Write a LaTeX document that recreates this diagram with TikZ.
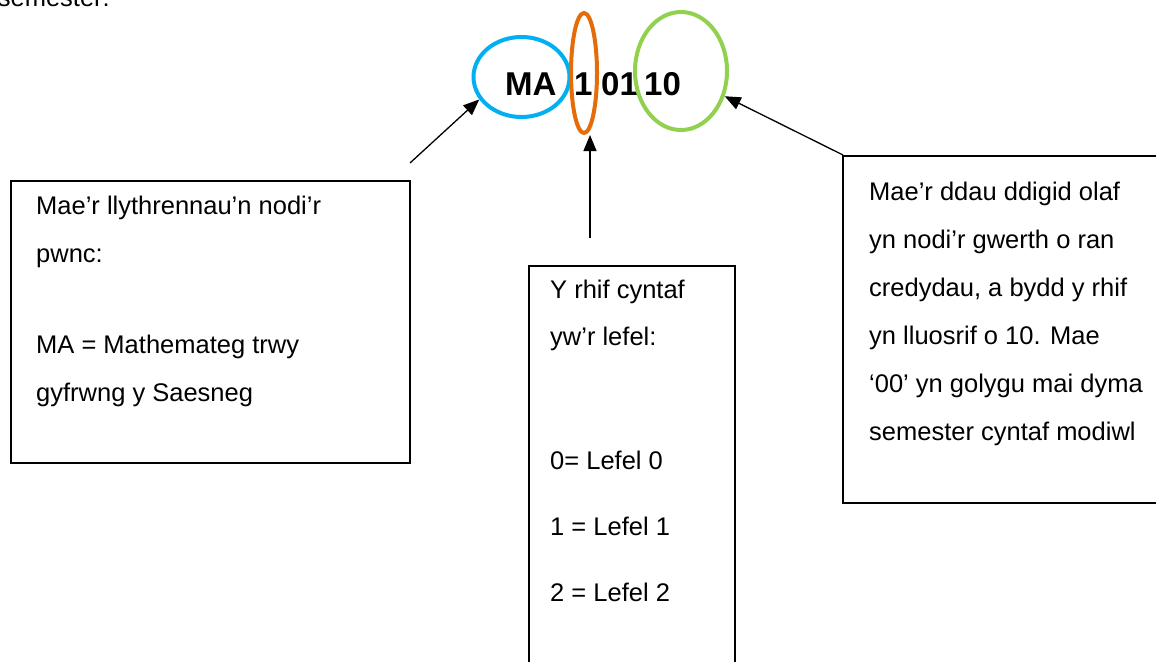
\documentclass[tikz,border=0pt]{standalone}
\usepackage{fontspec}
\setmainfont{Liberation Sans}
\usetikzlibrary{shapes.geometric,arrows.meta}
\definecolor{cblue}{HTML}{00B0F0}
\definecolor{corange}{HTML}{E46C0A}
\definecolor{cgreen}{HTML}{92D050}
\begin{document}
\begin{tikzpicture}[x=1pt,y=-1pt,
  txt/.style={anchor=base west,inner sep=0pt,font=\fontsize{25.5}{30}\selectfont},
  code/.style={anchor=base west,inner sep=0pt,font=\fontsize{33}{38}\selectfont\bfseries},
  ring/.style={ellipse,draw,line width=4pt,inner sep=0pt},
  box/.style={draw,line width=1.4pt},
  arr/.style={line width=1.3pt,-{Triangle[length=16pt,width=13pt]}}]
\useasboundingbox (0,0) rectangle (1156,661);
\node[txt,anchor=base east] (sem) at (110,7) {semester:};
% code
\node[code] (ma) at (505,95) {MA};
\node[code] (one) at (574,95) {1};
\node[code] (zo) at (601,95) {01};
\node[code] (ten) at (644,95) {10};
% rings
\node[ring,cblue,minimum width=96pt,minimum height=80pt] (blue) at (521.5,77) {};
\node[ring,corange,minimum width=26pt,minimum height=120pt] (orange) at (584,73) {};
\node[ring,cgreen,minimum width=92pt,minimum height=118pt] (green) at (681,71) {};
% boxes
\draw[box] (11,181) rectangle (410,463);
\draw[box] (529,266) rectangle (735,700);
\draw[box] (843,156) rectangle (1180,503);
\coordinate (ls) at (410,163);
\coordinate (ms) at (590,238);
\coordinate (rs) at (843,155);
% left text
\node[txt] (l1) at (36,214) {Mae’r llythrennau’n nodi’r};
\node[txt] (l2) at (36,262) {pwnc:};
\node[txt] (l3) at (36,353) {MA = Mathemateg trwy};
\node[txt] (l4) at (36,401) {gyfrwng y Saesneg};
% middle text
\node[txt] (m1) at (550,298) {Y rhif cyntaf};
\node[txt] (m2) at (550,345) {yw’r lefel:};
\node[txt] (m3) at (550,469) {0= Lefel 0};
\node[txt] (m4) at (550,535) {1 = Lefel 1};
\node[txt] (m5) at (550,601) {2 = Lefel 2};
% right text
\node[txt] (r1) at (869,200) {Mae’r ddau ddigid olaf};
\node[txt] (r2) at (869,248) {yn nodi’r gwerth o ran};
\node[txt] (r3) at (869,296) {credydau, a bydd y rhif};
\node[txt] (r4) at (869,344) {yn lluosrif o 10. Mae};
\node[txt] (r5) at (869,392) {‘00’ yn golygu mai dyma};
\node[txt] (r6) at (869,440) {semester cyntaf modiwl};
% arrows
\draw[arr] (ls) -- (blue.208);
\draw[arr] (ms) -- (ms |- orange.south);
\draw[arr] (rs) -- (green.-30);
\end{tikzpicture}
\end{document}
